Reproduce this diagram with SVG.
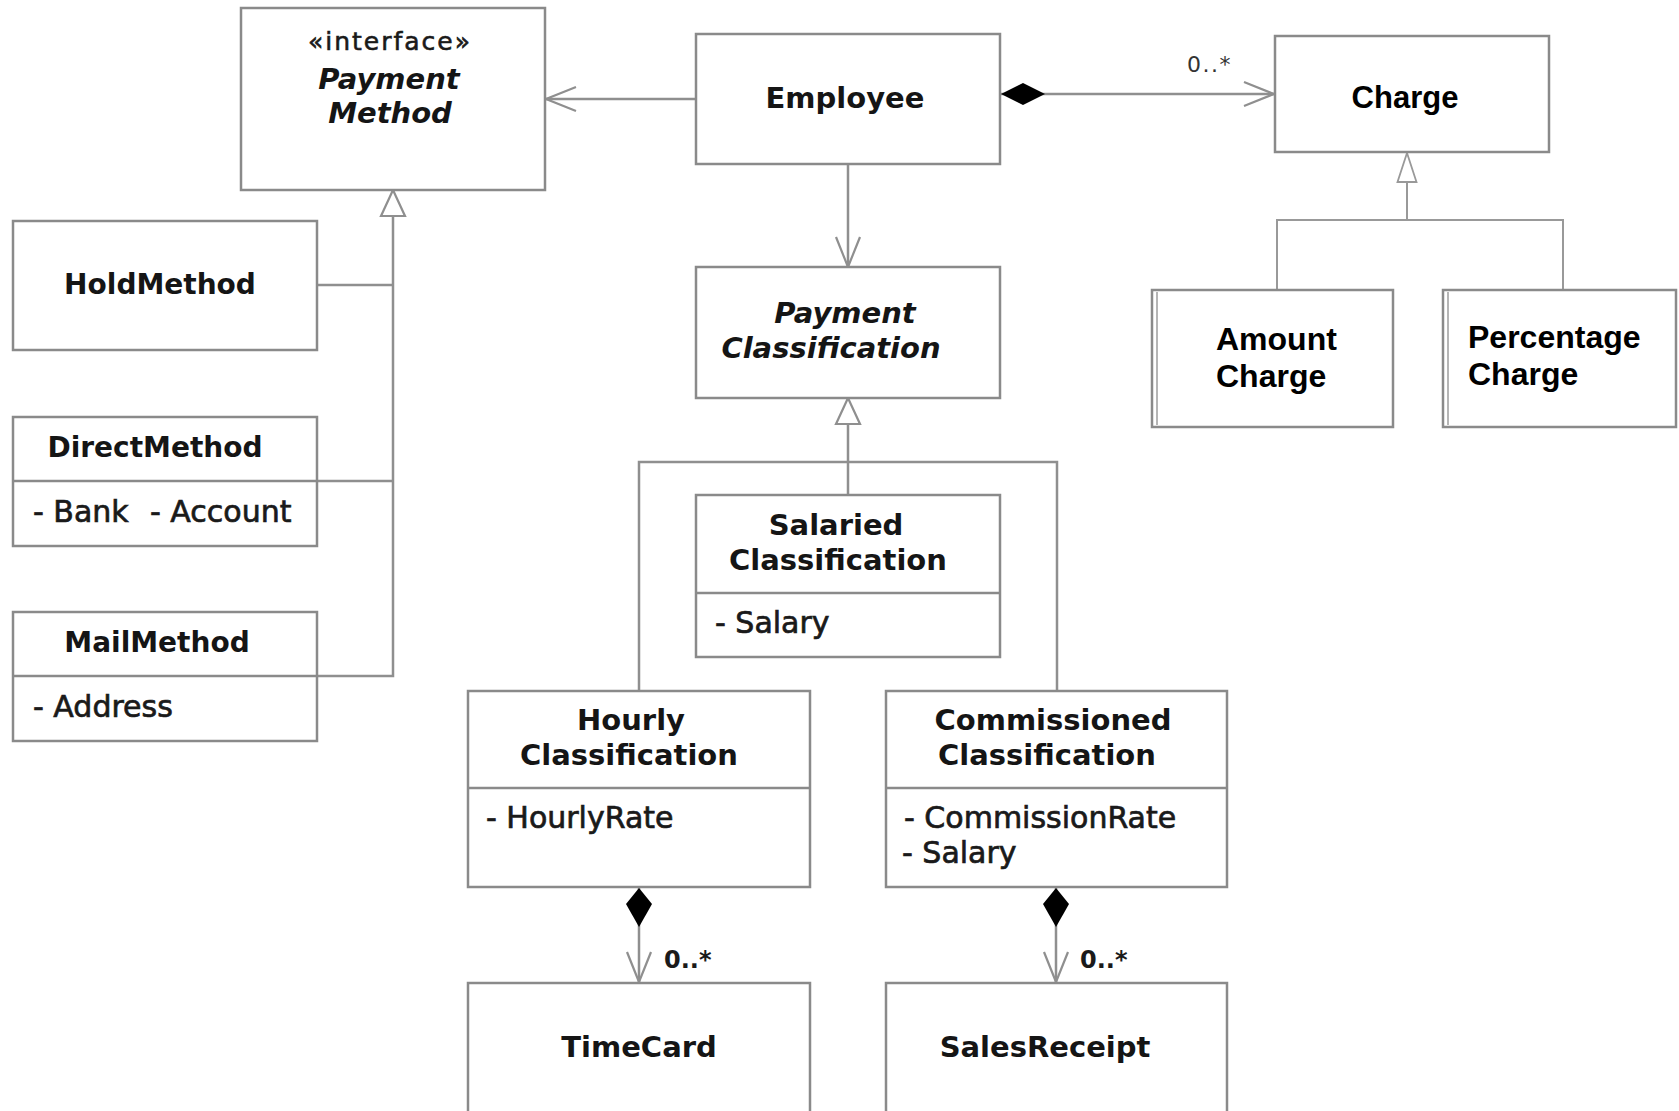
<svg xmlns="http://www.w3.org/2000/svg" width="1679" height="1111" viewBox="0 0 1679 1111">
  <style>
    .box { fill: #ffffff; stroke: #8a8a8a; stroke-width: 2.5; }
    .div { stroke: #8a8a8a; stroke-width: 2.5; }
    .edge { fill: none; stroke: #8f8f8f; stroke-width: 2.5; }
    .thin { fill: none; stroke: #999999; stroke-width: 2; }
    .name { font-family: "DejaVu Sans", "Liberation Sans", sans-serif; font-weight: bold; font-size: 29px; fill: #151515; }
    .lname { font-family: "DejaVu Sans", "Liberation Sans", sans-serif; font-weight: bold; font-size: 28px; fill: #151515; }
    .abs { font-style: italic; }
    .attr { font-family: "DejaVu Sans", "Liberation Sans", sans-serif; font-size: 30px; fill: #1a1a1a; stroke: #1a1a1a; stroke-width: 0.7; }
    .stereo { font-family: "DejaVu Sans", "Liberation Sans", sans-serif; font-size: 25px; letter-spacing: 2px; fill: #1a1a1a; stroke: #1a1a1a; stroke-width: 0.6; }
    .chg { font-family: "Liberation Sans", Arial, sans-serif; font-weight: bold; font-size: 32px; fill: #000000; }
    .mult { font-family: "DejaVu Sans", "Liberation Sans", sans-serif; font-weight: bold; font-size: 24px; fill: #1a1a1a; }
    .mult-s { font-family: "DejaVu Sans", "Liberation Sans", sans-serif; font-size: 22px; letter-spacing: 1.5px; fill: #333333; }
    .c { text-anchor: middle; }
  </style>
  <defs>
    <!-- open navigation arrowhead -->
    <marker id="open" markerUnits="userSpaceOnUse" viewBox="-2 -2 36 28" markerWidth="36" markerHeight="28" refX="30" refY="12" orient="auto">
      <path d="M0,0 L30,12 L0,24" fill="none" stroke="#8f8f8f" stroke-width="2.2"/>
    </marker>
    <!-- filled composition diamond -->
    <marker id="diamond" markerUnits="userSpaceOnUse" viewBox="-1 -14 48 28" markerWidth="48" markerHeight="28" refX="0" refY="0" orient="auto">
      <path d="M0,0 L22,-11 L44,0 L22,11 Z" fill="#000000"/>
    </marker>
    <marker id="diamond2" markerUnits="userSpaceOnUse" viewBox="-1 -15 42 30" markerWidth="42" markerHeight="30" refX="0" refY="0" orient="auto">
      <path d="M0,0 L16,-13 L39,0 L16,13 Z" fill="#000000"/>
    </marker>
    <!-- hollow generalization triangle -->
    <marker id="tri" markerUnits="userSpaceOnUse" viewBox="-2 -15 30 30" markerWidth="30" markerHeight="30" refX="26" refY="0" orient="auto">
      <path d="M0,-12 L26,0 L0,12 Z" fill="#ffffff" stroke="#8f8f8f" stroke-width="2.2"/>
    </marker>
    <marker id="triSmall" markerUnits="userSpaceOnUse" viewBox="-2 -12 33 24" markerWidth="33" markerHeight="24" refX="29" refY="0" orient="auto">
      <path d="M0,-9.5 L29,0 L0,9.5 Z" fill="#ffffff" stroke="#999999" stroke-width="1.8"/>
    </marker>
  </defs>

  <!-- connectors -->
  <g id="connectors">
    <!-- payment method realisations -->
    <path class="edge" d="M317,285 H393"/>
    <path class="edge" d="M317,481 H393"/>
    <path class="edge" d="M317,676 H393 V190" marker-end="url(#tri)"/>
    <!-- Employee to PaymentMethod -->
    <path class="edge" d="M696,99 H546" marker-end="url(#open)"/>
    <!-- Employee to Charge -->
    <path class="edge" d="M1001,94 H1274" marker-start="url(#diamond)" marker-end="url(#open)"/>
    <!-- Employee to PaymentClassification -->
    <path class="edge" d="M848,164 V267" marker-end="url(#open)"/>
    <!-- classification hierarchy -->
    <path class="edge" d="M848,495 V398" marker-end="url(#tri)"/>
    <path class="edge" d="M639,691 V462 H1057 V691"/>
    <!-- charge hierarchy -->
    <path class="thin" d="M1407,220 V153" marker-end="url(#triSmall)"/>
    <path class="thin" d="M1277,290 V220 H1563 V290"/>
    <!-- compositions -->
    <path class="edge" d="M639,888 V982" marker-start="url(#diamond2)" marker-end="url(#open)"/>
    <path class="edge" d="M1056,888 V982" marker-start="url(#diamond2)" marker-end="url(#open)"/>
  </g>

  <!-- multiplicities -->
  <g id="labels">
    <text class="mult-s" x="1187" y="72">0..*</text>
    <text class="mult" x="664" y="968">0..*</text>
    <text class="mult" x="1080" y="968">0..*</text>
  </g>

  <g id="PaymentMethod">
    <rect class="box" x="241" y="8" width="304" height="182"/>
    <text class="stereo c" x="390" y="50">«interface»</text>
    <text class="name abs c" x="389" y="89">Payment</text>
    <text class="name abs c" x="390" y="123">Method</text>
  </g>

  <g id="Employee">
    <rect class="box" x="696" y="34" width="304" height="130"/>
    <text class="name c" x="845" y="108">Employee</text>
  </g>

  <g id="Charge">
    <rect class="box" x="1275" y="36" width="274" height="116"/>
    <text class="chg c" x="1405" y="108" style="font-size:31px">Charge</text>
  </g>

  <g id="AmountCharge">
    <rect class="box" x="1152" y="290" width="241" height="137"/>
    <line x1="1157" y1="292" x2="1157" y2="425" stroke="#b5b5b5" stroke-width="2"/>
    <text class="chg" x="1216" y="350">Amount</text>
    <text class="chg" x="1216" y="387">Charge</text>
  </g>

  <g id="PercentageCharge">
    <rect class="box" x="1443" y="290" width="233" height="137"/>
    <line x1="1448" y1="292" x2="1448" y2="425" stroke="#b5b5b5" stroke-width="2"/>
    <text class="chg" x="1468" y="348">Percentage</text>
    <text class="chg" x="1468" y="385">Charge</text>
  </g>

  <g id="HoldMethod">
    <rect class="box" x="13" y="221" width="304" height="129"/>
    <text class="lname c" x="160" y="294">HoldMethod</text>
  </g>

  <g id="DirectMethod">
    <rect class="box" x="13" y="417" width="304" height="129"/>
    <line class="div" x1="13" y1="481" x2="317" y2="481"/>
    <text class="lname c" x="155" y="457">DirectMethod</text>
    <text class="attr" x="33" y="522">- Bank</text>
    <text class="attr" x="150" y="522">- Account</text>
  </g>

  <g id="MailMethod">
    <rect class="box" x="13" y="612" width="304" height="129"/>
    <line class="div" x1="13" y1="676" x2="317" y2="676"/>
    <text class="lname c" x="157" y="652">MailMethod</text>
    <text class="attr" x="33" y="717">- Address</text>
  </g>

  <g id="PaymentClassification">
    <rect class="box" x="696" y="267" width="304" height="131"/>
    <text class="name abs c" x="845" y="323">Payment</text>
    <text class="name abs c" x="831" y="358">Classification</text>
  </g>

  <g id="SalariedClassification">
    <rect class="box" x="696" y="495" width="304" height="162"/>
    <line class="div" x1="696" y1="593" x2="1000" y2="593"/>
    <text class="name c" x="836" y="535">Salaried</text>
    <text class="name c" x="838" y="570">Classification</text>
    <text class="attr" x="715" y="633">- Salary</text>
  </g>

  <g id="HourlyClassification">
    <rect class="box" x="468" y="691" width="342" height="196"/>
    <line class="div" x1="468" y1="788" x2="810" y2="788"/>
    <text class="name c" x="631" y="730">Hourly</text>
    <text class="name c" x="629" y="765">Classification</text>
    <text class="attr" x="486" y="828">- HourlyRate</text>
  </g>

  <g id="CommissionedClassification">
    <rect class="box" x="886" y="691" width="341" height="196"/>
    <line class="div" x1="886" y1="788" x2="1227" y2="788"/>
    <text class="name c" x="1053" y="730">Commissioned</text>
    <text class="name c" x="1047" y="765">Classification</text>
    <text class="attr" x="904" y="828">- CommissionRate</text>
    <text class="attr" x="902" y="863">- Salary</text>
  </g>

  <g id="TimeCard">
    <rect class="box" x="468" y="983" width="342" height="140"/>
    <text class="name c" x="639" y="1057">TimeCard</text>
  </g>

  <g id="SalesReceipt">
    <rect class="box" x="886" y="983" width="341" height="140"/>
    <text class="name c" x="1045" y="1057">SalesReceipt</text>
  </g>
</svg>
